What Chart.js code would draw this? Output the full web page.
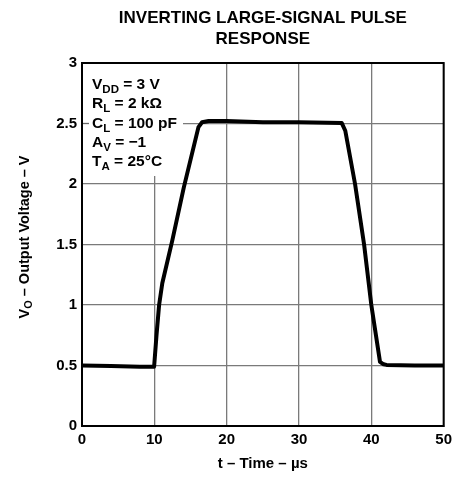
<!DOCTYPE html>
<html>
<head>
<meta charset="utf-8">
<script src="https://cdn.jsdelivr.net/npm/chart.js@4.4.1/dist/chart.umd.min.js"></script>
<style>
  html, body { margin: 0; padding: 0; background: #fff; }
  #wrap { width: 457px; height: 477px; }
</style>
</head>
<body>
<div id="wrap"><canvas id="chart" width="457" height="477"></canvas></div>
<script>
// pulse response trace: time (us) and output voltage (V)
const timeUs = [0, 4, 8, 9.97, 10.3, 10.66, 11.1, 12.47, 14.07, 16.1, 16.6, 17.5, 20, 25, 30, 35.9, 36.4, 37.75, 39.0, 40.0, 41.2, 41.7, 42.1, 46, 50];
const voltsOut = [0.5, 0.495, 0.49, 0.49, 0.75, 1.0, 1.18, 1.53, 1.97, 2.47, 2.51, 2.52, 2.52, 2.51, 2.51, 2.505, 2.44, 2.0, 1.5, 1.0, 0.53, 0.51, 0.505, 0.5, 0.5];

const xTicks = [0, 10, 20, 30, 40, 50];
const yTicks = [0, 0.5, 1, 1.5, 2, 2.5, 3];

const titleLines = ["INVERTING LARGE-SIGNAL PULSE", "RESPONSE"];
const xTitle = "t \u2013 Time \u2013 \u00b5s";
// each entry: main text, subscript, rest
const conditions = [
    ["V", "DD", " = 3 V"],
    ["R", "L", " = 2 k\u03a9"],
    ["C", "L", " = 100 pF"],
    ["A", "V", " = \u22121"],
    ["T", "A", " = 25\u00b0C"]
];

const FONT = "'Liberation Sans', Arial, sans-serif";

function drawSubText(c, x, y, parts, size, subSize, subDrop) {
    c.font = "bold " + size + "px " + FONT;
    c.fillText(parts[0], x, y);
    x += c.measureText(parts[0]).width;
    c.font = "bold " + subSize + "px " + FONT;
    c.fillText(parts[1], x, y + subDrop);
    x += c.measureText(parts[1]).width;
    c.font = "bold " + size + "px " + FONT;
    c.fillText(parts[2], x, y);
}

function subTextWidth(c, parts, size, subSize) {
    c.font = "bold " + size + "px " + FONT;
    let w = c.measureText(parts[0]).width + c.measureText(parts[2]).width;
    c.font = "bold " + subSize + "px " + FONT;
    return w + c.measureText(parts[1]).width;
}

const decor = {
    id: "decor",
    beforeDatasetsDraw(chart) {
        const c = chart.ctx;
        const a = chart.chartArea;
        const ys = chart.scales.y;
        c.save();
        // white box for the test conditions
        c.fillStyle = "#fff";
        c.fillRect(a.left + 1, a.top + 1, 100, 112);
        // short tick mark that stays visible inside the box
        c.strokeStyle = "#666";
        c.lineWidth = 1.3;
        c.beginPath();
        const py = ys.getPixelForValue(2.5);
        c.moveTo(a.left, py);
        c.lineTo(a.left + 7, py);
        c.stroke();

        c.fillStyle = "#000";
        c.textBaseline = "alphabetic";
        c.textAlign = "left";
        conditions.forEach((p, i) => {
            drawSubText(c, a.left + 10, a.top + 26 + i * 19.3, p, 15.5, 11.5, 4);
        });
        c.restore();
    },
    afterDraw(chart) {
        const c = chart.ctx;
        const a = chart.chartArea;
        c.save();
        // frame around plot
        c.strokeStyle = "#000";
        c.lineWidth = 2;
        c.strokeRect(a.left, a.top, a.right - a.left, a.bottom - a.top);

        // chart title
        c.fillStyle = "#000";
        c.textAlign = "center";
        c.textBaseline = "middle";
        c.font = "bold 17px " + FONT;
        const cx = (a.left + a.right) / 2;
        c.fillText(titleLines[0], cx, 18);
        c.fillText(titleLines[1], cx, 39);

        // y axis title with subscript
        const yParts = ["V", "O", " \u2013 Output Voltage \u2013 V"];
        c.translate(25, 237);
        c.rotate(-Math.PI / 2);
        const w = subTextWidth(c, yParts, 14.5, 11);
        c.textAlign = "left";
        c.textBaseline = "middle";
        drawSubText(c, -w / 2, 0, yParts, 14.5, 11, 4);
        c.restore();
    }
};

const tickFont = { family: FONT, size: 15, weight: "bold" };

const ctx = document.getElementById("chart").getContext("2d");
const myChart = new Chart(ctx, {
    type: "line",
    data: {
        datasets: [{
            data: timeUs.map((t, i) => ({ x: t, y: voltsOut[i] })),
            borderColor: "#000",
            borderWidth: 4,
            pointRadius: 0,
            tension: 0,
            borderJoinStyle: "round",
            borderCapStyle: "round",
            fill: false
        }]
    },
    options: {
        responsive: false,
        animation: false,
        layout: { padding: { top: 63, right: 9, left: 0, bottom: 0 } },
        plugins: {
            legend: { display: false },
            tooltip: { enabled: false },
            title: { display: false }
        },
        scales: {
            x: {
                type: "linear",
                min: 0,
                max: 50,
                afterBuildTicks: s => { s.ticks = xTicks.map(v => ({ value: v })); },
                afterFit: s => { s.height = 51; },
                grid: { color: "#7a7a7a", lineWidth: 1.3, drawTicks: false },
                border: { display: true, color: "#000", width: 2 },
                ticks: {
                    color: "#000",
                    padding: 5,
                    font: tickFont,
                    callback: v => String(v)
                },
                title: {
                    display: true,
                    text: xTitle,
                    color: "#000",
                    padding: { top: 2 },
                    font: { family: FONT, size: 15, weight: "bold" }
                }
            },
            y: {
                type: "linear",
                min: 0,
                max: 3,
                afterBuildTicks: s => { s.ticks = yTicks.map(v => ({ value: v })); },
                afterFit: s => { s.width = 82; },
                grid: { color: "#7a7a7a", lineWidth: 1.3, drawTicks: false },
                border: { display: true, color: "#000", width: 2 },
                ticks: {
                    color: "#000",
                    padding: 5,
                    font: tickFont,
                    callback: v => String(v)
                }
            }
        }
    },
    plugins: [decor]
});
</script>
</body>
</html>
